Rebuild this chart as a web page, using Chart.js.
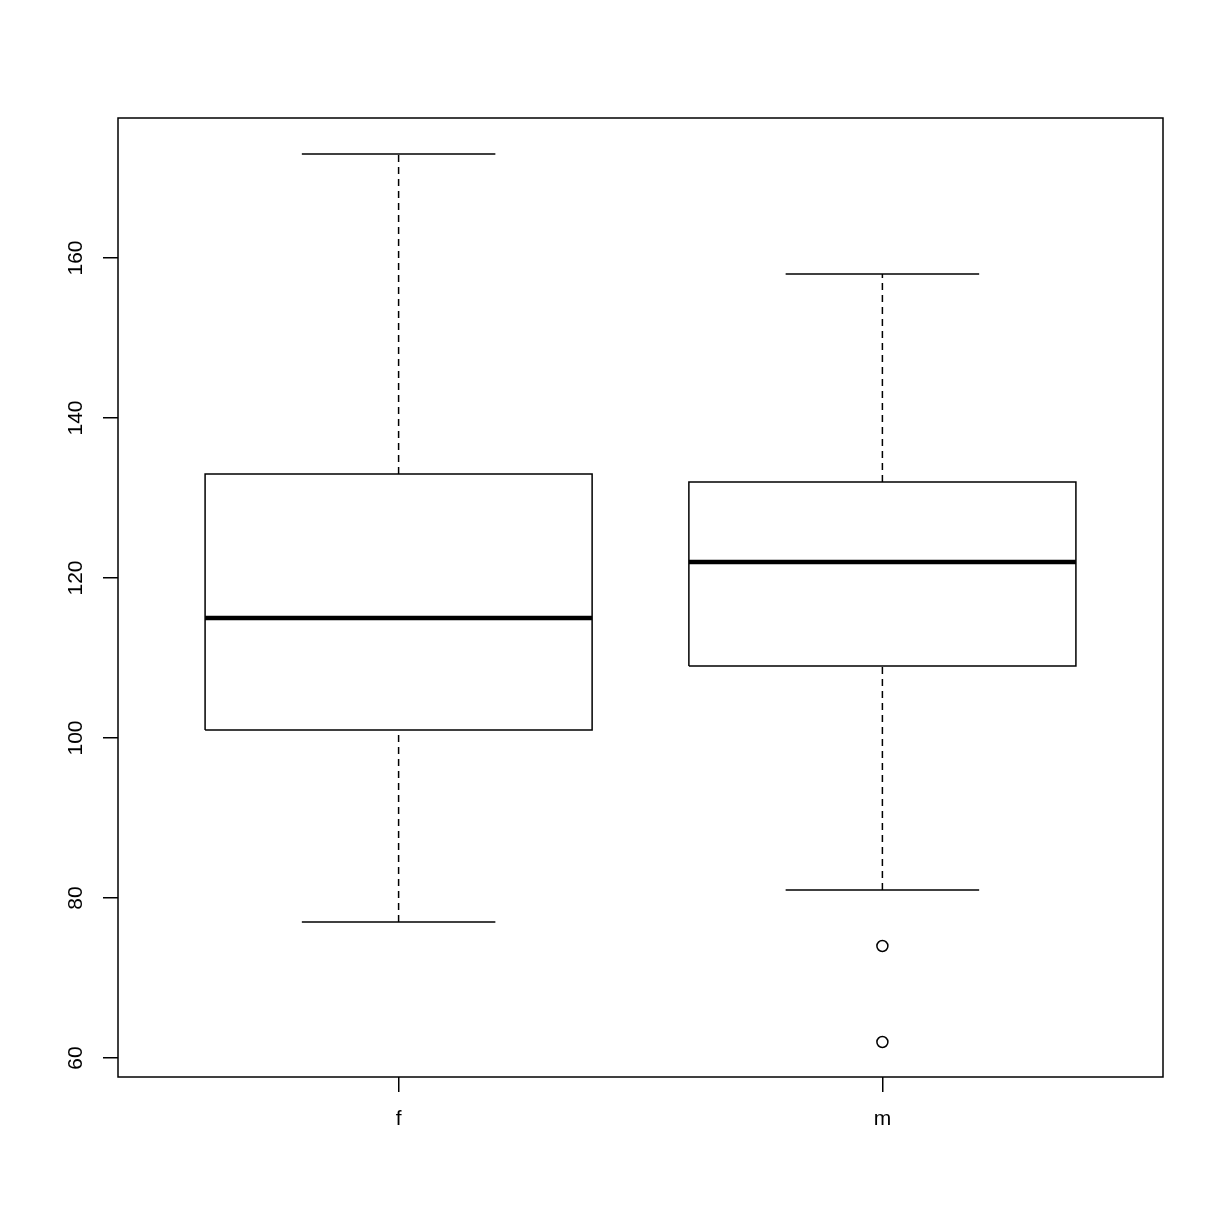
<!DOCTYPE html>
<html>
<head>
<meta charset="utf-8">
<script src="https://cdn.jsdelivr.net/npm/chart.js@4"></script>
<style>
  body { margin: 0; background: #fff; }
  canvas { display: block; }
</style>
</head>
<body>
<canvas id="boxChart" width="1224" height="1224"></canvas>
<script>
// boxplot stats per group
const groups = ['f', 'm'];
const whiskerLow = [77, 81];
const q1 = [101, 109];
const median = [115, 122];
const q3 = [133, 132];
const whiskerHigh = [173, 158];
const outliers = [[], [74, 62]];
const yTicks = [60, 80, 100, 120, 140, 160];

const boxHalf = 0.4;
const capHalf = 0.2;
const tickFont = { family: "'Liberation Sans', Arial, sans-serif", size: 21 };

Chart.defaults.color = '#000';

function seg(points, width, dash) {
    return {
        type: 'line',
        data: points,
        borderColor: '#000',
        borderWidth: width,
        borderDash: dash || [],
        pointRadius: 0,
        fill: false,
        tension: 0
    };
}

let datasets = [];
groups.forEach((g, i) => {
    let x = i + 1;
    // dashed whiskers
    datasets.push(seg([{x: x, y: q3[i]}, {x: x, y: whiskerHigh[i]}], 1.5, [7, 5]));
    datasets.push(seg([{x: x, y: whiskerLow[i]}, {x: x, y: q1[i]}], 1.5, [7, 5]));
    // caps
    datasets.push(seg([{x: x - capHalf, y: whiskerHigh[i]}, {x: x + capHalf, y: whiskerHigh[i]}], 1.5));
    datasets.push(seg([{x: x - capHalf, y: whiskerLow[i]}, {x: x + capHalf, y: whiskerLow[i]}], 1.5));
    // box
    datasets.push(seg([
        {x: x - boxHalf, y: q1[i]}, {x: x + boxHalf, y: q1[i]},
        {x: x + boxHalf, y: q3[i]}, {x: x - boxHalf, y: q3[i]},
        {x: x - boxHalf, y: q1[i]}
    ], 1.5));
    // median
    datasets.push(seg([{x: x - boxHalf, y: median[i]}, {x: x + boxHalf, y: median[i]}], 4.5));
    // outliers
    if (outliers[i].length) {
        datasets.push({
            type: 'scatter',
            data: outliers[i].map(v => ({x: x, y: v})),
            showLine: false,
            pointStyle: 'circle',
            pointRadius: 5.5,
            pointBorderWidth: 1.5,
            pointBorderColor: '#000',
            pointBackgroundColor: 'rgba(0,0,0,0)'
        });
    }
});

const framePlugin = {
    id: 'frame',
    afterDraw(chart) {
        let a = chart.chartArea;
        let ctx = chart.ctx;
        ctx.save();
        ctx.strokeStyle = '#000';
        ctx.lineWidth = 1.5;
        ctx.strokeRect(a.left, a.top, a.right - a.left, a.bottom - a.top);
        ctx.restore();
    }
};

new Chart(document.getElementById('boxChart'), {
    type: 'scatter',
    data: { datasets: datasets },
    plugins: [framePlugin],
    options: {
        responsive: false,
        animation: false,
        devicePixelRatio: 1,
        layout: { padding: { top: 118, right: 61, left: 0, bottom: 0 } },
        plugins: { legend: { display: false }, tooltip: { enabled: false } },
        scales: {
            x: {
                type: 'linear',
                min: 0.42,
                max: 2.58,
                afterBuildTicks: s => { s.ticks = groups.map((g, i) => ({ value: i + 1 })); },
                afterFit: s => { s.height = 147; },
                ticks: {
                    callback: v => groups[v - 1],
                    padding: 15,
                    color: '#000',
                    font: tickFont
                },
                grid: { drawOnChartArea: false, drawTicks: true, tickLength: 15, color: '#000', lineWidth: 1.5 },
                border: { display: false }
            },
            y: {
                type: 'linear',
                min: 57.625,
                max: 177.5,
                afterBuildTicks: s => { s.ticks = yTicks.map(v => ({ value: v })); },
                afterFit: s => { s.width = 118; },
                ticks: {
                    minRotation: 90,
                    maxRotation: 90,
                    crossAlign: 'center',
                    padding: 9,
                    color: '#000',
                    font: tickFont
                },
                grid: { drawOnChartArea: false, drawTicks: true, tickLength: 15, color: '#000', lineWidth: 1.5 },
                border: { display: false }
            }
        }
    }
});
</script>
</body>
</html>
